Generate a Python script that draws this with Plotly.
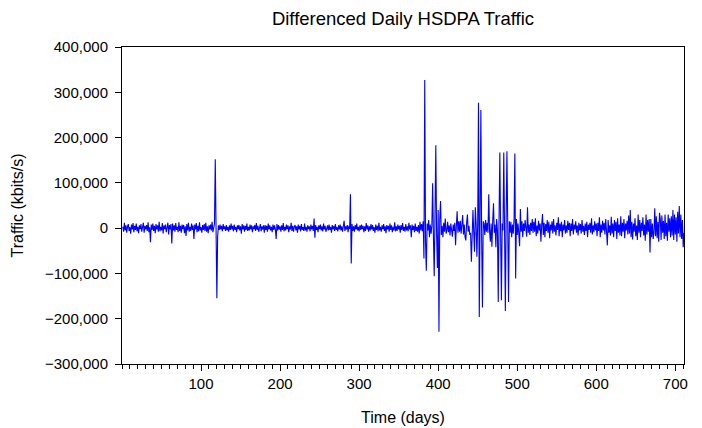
import plotly.graph_objects as go

# Differenced daily HSDPA traffic, values in thousands of kbits/s
traffic_k = [
    # 1-20
    3, -8, 12, -5, 6, -10, 4, 9, -6, 2, -12, 8, -3, 11, -9, 5, -4, 10, -7, 3,
    # 21-40
    -11, 6, -2, 9, -8, 4, 12, -10, 5, -3, 7, -6, 13, -9, 2, -31, 8, -4, 10, -6,
    # 41-60
    5, -11, 9, -3, 6, -8, 14, -7, 3, -5, 11, -12, 6, -2, 8, -9, 4, 12, -14, 7,
    # 61-80
    -3, 9, -34, 10, -5, 6, -8, 11, -4, 3, -9, 13, -6, 5, -10, 8, -2, 7, -11, 4,
    # 81-100
    -17, 9, -5, 12, -8, 3, -6, 10, -4, 6, -24, 8, -3, 11, -9, 5, -7, 13, -5, 2,
    # 101-117
    -10, 7, -4, 9, -6, 12, -8, 4, -11, 6, -3, 8, -5, 14, -9, 3, 10,
    # 118-121
    152, 2, -155, -19,
    # 122-140
    6, -4, 8, -3, 5, -7, 9, -2, 4, -6, 7, -5, 3, -8, 6, -4, 10, -3, 5,
    # 141-160
    -7, 8, -4, 3, -9, 6, -2, 7, -5, 4, -12, 9, -3, 6, -8, 5, -4, 10, -6, 3,
    # 161-180
    -5, 8, -3, 6, -9, 4, -2, 7, -6, 11, -4, 5, -8, 3, 9, -7, 4, -3, 6, -10,
    # 181-200
    7, -4, 5, -8, 10, -3, 6, -5, 3, -9, 8, -4, 6, -2, -24, 9, -5, 7, -3, 4,
    # 201-220
    -8, 6, -4, 11, -7, 3, -5, 8, -2, 6, -9, 4, -3, 12, -6, 5, -8, 3, 7, -5,
    # 221-240
    4, -10, 8, -3, 5, -7, 9, -4, 2, -6, 10, -5, 3, -8, 6, -2, 4, -7, 8, -3,
    # 241-260
    5, -6, 21, -21, 7, -4, 3, -9, 6, -2, 8, -5, 4, -7, 10, -3, 5, -8, 3, 6,
    # 261-280
    -5, 8, -4, 3, -10, 7, -3, 5, -6, 9, -4, 2, -7, 6, -3, 8, -5, 4, -8, 5,
    # 281-290
    16, -6, 4, -3, 7, -9, 5, -2, 75, -78,
    # 291-310
    9, -6, 4, -8, 7, -3, 10, -5, 3, -7, 6, -4, 8, -2, 5, -9, 4, -6, 11, -3,
    # 311-330
    6, -8, 4, -5, 9, -3, 7, -6, 2, -10, 8, -4, 5, -7, 12, -5, 3, -8, 6, -2,
    # 331-350
    9, -6, 4, -11, 7, -3, 5, -8, 10, -4, 6, -9, 3, -5, 13, -7, 4, -6, 8, -3,
    # 351-370
    5, -10, 7, -4, 11, -6, 3, -8, 9, -5, 4, -7, 12, -3, 6, -20, 8, -4, 5, -9,
    # 371-380
    10, -6, 3, -8, 7, -12, 14, -5, 9, -7,
    # 381-410
    15, -67, 327, -30, -94, 10, -5, 18, -20, 8, -12, 5, 99, -20, -106, 30, 183, -10, -88, 40,
    -229, 20, 60, -15, 5, -20, 12, -8, 21, -12,
    # 411-450
    -5, 14, -9, 6, -16, 10, -4, -19, 8, -6, 12, -38, 5, 37, -10, 15, -8, 16, -12, 6,
    29, -14, 8, -20, -27, 12, 30, -8, 5, -15, -10, -74, 25, 40, -10, -52, 46, 10, -63, 10,
    # 451-500
    277, -196, 20, 261, -20, -175, 15, 10, -15, 18, -8, 12, -10, 75, -5, -30, 10, -41, 15, 55,
    -10, 8, -42, 20, -5, -163, 20, 167, -10, -159, 10, -5, 167, 0, -183, 20, 170, 10, -163, 15,
    -10, 14, -20, 8, -12, 20, 165, -111, 20, -15,
    # 501-520
    10, -12, -40, 42, -8, 15, -20, 10, -6, 18, -14, -19, 46, -10, 8, -15, 12, -6, 20, -10,
    # 521-540
    14, -8, 22, -18, 6, -12, 16, -5, 10, -30, 8, 31, -15, 12, -20, 9, -6, 18, -10, 14,
    # 541-560
    -22, 8, -5, 15, -12, 20, -8, 6, -16, 12, -4, 24, -18, 10, -7, 14, -20, 8, -5, 18,
    # 561-580
    -12, 6, -10, 16, -4, 12, -18, 10, -6, 20, -14, 8, -3, 15, -10, 6, -16, 12, -5, 9,
    # 581-600
    -12, 18, -8, 5, -15, 10, -6, 14, -20, 8, -4, 12, -10, 22, -14, 6, -9, 15, -5, 10,
    # 601-620
    -18, 12, -6, 24, -20, 8, -10, 16, -5, 12, -14, 20, -8, -38, 18, -10, 6, -16, 25, -12,
    # 621-640
    10, -20, 18, -6, 14, -24, 22, -10, 8, -16, 26, -18, 12, -8, 20, -22, 10, -5, 16, -14,
    # 641-660
    28, -12, 40, -20, 14, -25, 10, -8, 22, -18, 6, -26, 30, -10, 18, -20, 12, -6, 24, -16,
    # 661-680
    8, -28, 30, -14, 18, -8, 20, -54, 20, -20, 10, -24, -10, 44, -18, 26, -22, 14, -30, 34,
    # 681-711
    20, -26, 28, -10, 16, -24, 30, -18, 12, -28, 30, -8, 22, -20, 26, -16, 40, -26, 30, -14,
    24, -30, 36, -12, 49, -20, 30, -24, 18, -42, -10,
]

days = list(range(1, len(traffic_k) + 1))
traffic = [v * 1000 for v in traffic_k]

y_ticks = [-300000, -200000, -100000, 0, 100000, 200000, 300000, 400000]
x_ticks = [100, 200, 300, 400, 500, 600, 700]

font_family = "Liberation Sans, Arial, sans-serif"

fig = go.Figure(
    go.Scatter(
        x=days,
        y=traffic,
        mode="lines",
        line=dict(color="#0000FF", width=1.1),
        hoverinfo="x+y",
    )
)

# the page body adds an 8px offset, margins are shifted to compensate
fig.update_layout(
    width=702,
    height=428,
    margin=dict(l=114, r=26, t=39, b=72, autoexpand=False),
    paper_bgcolor="white",
    plot_bgcolor="white",
    showlegend=False,
    font=dict(family=font_family, size=15, color="black"),
    title=dict(
        text="Differenced Daily HSDPA Traffic",
        x=0.5,
        xref="paper",
        xanchor="center",
        y=0.9766,
        yref="container",
        yanchor="middle",
        font=dict(size=18.5, color="black"),
    ),
)

fig.update_xaxes(
    range=[0, 711],
    tickvals=x_ticks,
    ticks="outside",
    ticklen=6,
    tickcolor="black",
    tickwidth=1,
    minor=dict(dtick=10, tick0=0, ticks="outside", ticklen=4, tickcolor="black", showgrid=False),
    showgrid=False,
    zeroline=False,
    showline=True,
    linecolor="black",
    linewidth=1,
    mirror=True,
    tickfont=dict(size=15),
    ticklabelstandoff=0,
    title=dict(text="Time (days)", font=dict(size=16), standoff=20),
)

fig.update_yaxes(
    range=[-300000, 400000],
    tickvals=y_ticks,
    tickformat=",d",
    ticks="outside",
    ticklen=6,
    tickcolor="black",
    showgrid=False,
    zeroline=False,
    showline=True,
    linecolor="black",
    linewidth=1,
    mirror=True,
    tickfont=dict(size=15),
    ticklabelstandoff=4,
    title=dict(text="Traffic (kbits/s)", font=dict(size=16), standoff=17),
)

fig.write_html("out.html")
